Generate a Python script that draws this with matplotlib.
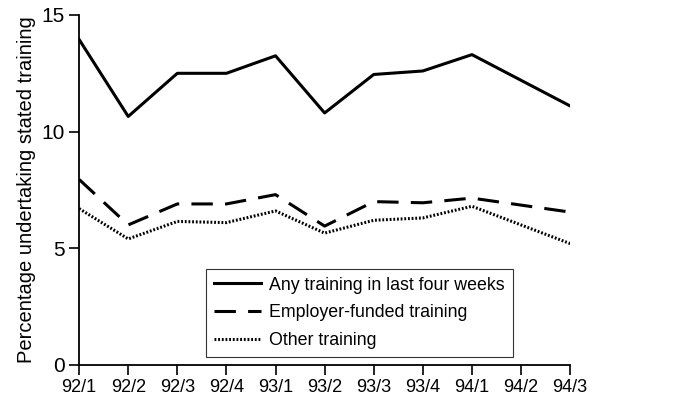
import matplotlib

matplotlib.use("Agg")
import matplotlib.pyplot as plt

plt.rcParams["font.family"] = ["Liberation Sans", "DejaVu Sans"]

quarters = ["92/1", "92/2", "92/3", "92/4", "93/1", "93/2", "93/3", "93/4", "94/1", "94/2", "94/3"]
any_training = [13.95, 10.65, 12.5, 12.5, 13.25, 10.8, 12.45, 12.6, 13.3, 12.2, 11.1]
employer_funded = [7.95, 6.0, 6.9, 6.9, 7.3, 5.95, 7.0, 6.95, 7.15, 6.85, 6.55]
other_training = [6.7, 5.4, 6.15, 6.1, 6.6, 5.65, 6.2, 6.3, 6.8, 6.0, 5.2]

fig = plt.figure(figsize=(6.82, 4.05), dpi=100)
ax = fig.add_axes([0.116, 0.099, 0.72, 0.864])
x = list(range(len(quarters)))
ax.plot(x, any_training, color="black", lw=2.2, label="Any training in last four weeks")
ax.plot(x, employer_funded, color="black", lw=2.2, dashes=(7, 4), label="Employer-funded training")
ax.plot(x, other_training, color="black", lw=2.2, linestyle=(0, (0.6, 0.6)), label="Other training")

ax.set_xlim(0, len(quarters) - 1)
ax.set_ylim(0, 15)
ax.set_xticks(x)
ax.set_xticklabels(quarters)
ax.set_yticks([0, 5, 10, 15])
ax.spines["top"].set_visible(False)
ax.spines["right"].set_visible(False)
for s in ("left", "bottom"):
    ax.spines[s].set_linewidth(1.3)
ax.tick_params(direction="out", length=7, width=1.2, labelsize=13)
ax.tick_params(axis="y", labelsize=15)
ax.set_ylabel("Percentage undertaking stated training", fontsize=14.5)

leg = ax.legend(loc="lower left", bbox_to_anchor=(0.259, 0.023), borderaxespad=0, fontsize=12.8,
                frameon=True, fancybox=False, edgecolor="black", borderpad=0.45, handlelength=2.6,
                handletextpad=0.5, labelspacing=0.6)
leg.get_frame().set_linewidth(0.8)

fig.savefig("out.png", dpi=100)
